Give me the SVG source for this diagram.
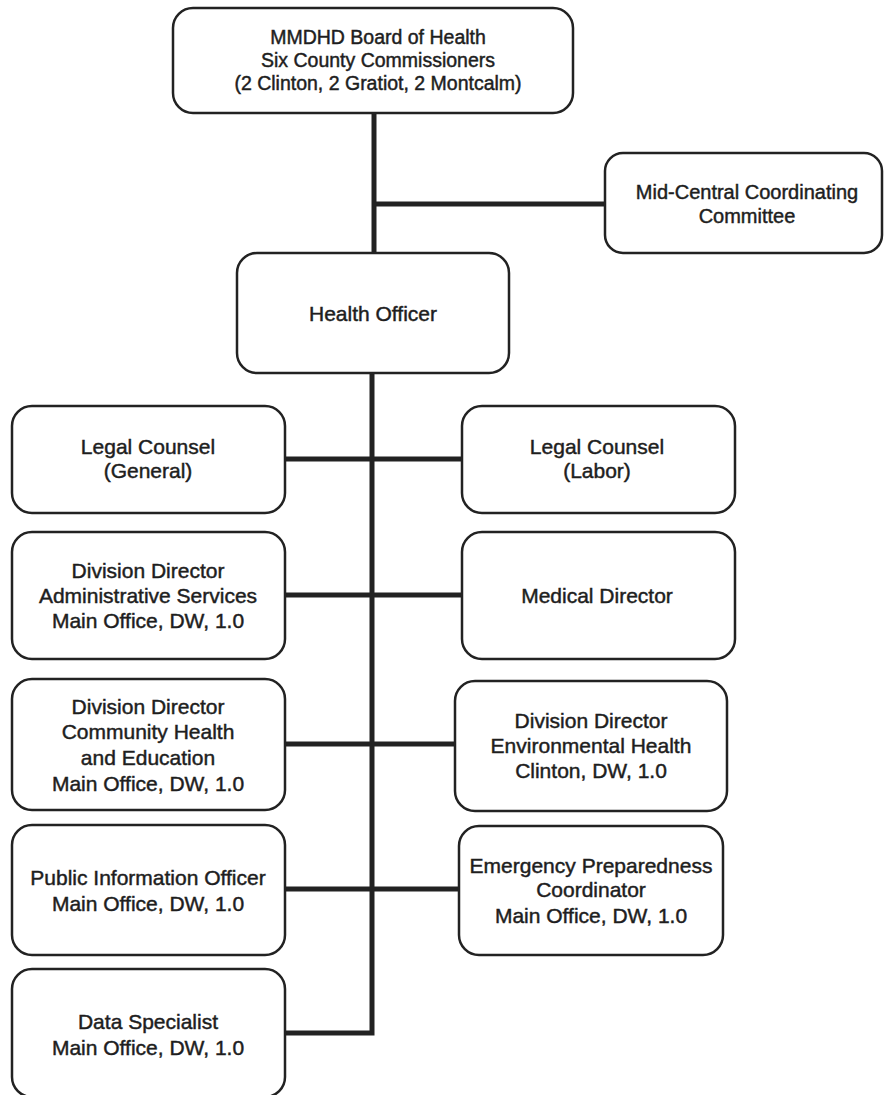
<svg xmlns="http://www.w3.org/2000/svg" width="884" height="1095" viewBox="0 0 884 1095">
<style>
.box{fill:#fff;stroke:#222;stroke-width:2.5}
.conn{fill:none;stroke:#222;stroke-width:5}
text{font-family:"Liberation Sans",Arial,sans-serif;fill:#1e1e1e;stroke:#1e1e1e;stroke-width:0.45;text-anchor:middle}
.t19{font-size:19.5px}
.t21{font-size:21px}
</style>
<rect width="884" height="1095" fill="#fff"/>
<g id="connectors">
<path class="conn" d="M374 113V253"/>
<path class="conn" d="M374 204H605"/>
<path class="conn" d="M372 373V1033H285"/>
<path class="conn" d="M285 459H462"/>
<path class="conn" d="M285 595H462"/>
<path class="conn" d="M285 744H455"/>
<path class="conn" d="M285 889H459"/>
</g>
<g id="board">
<rect class="box" x="173" y="8" width="400" height="105" rx="20"/>
<text class="t19" x="378" y="44">MMDHD Board of Health</text>
<text class="t19" x="378" y="67">Six County Commissioners</text>
<text class="t19" x="378" y="90">(2 Clinton, 2 Gratiot, 2 Montcalm)</text>
</g>
<g id="midcentral">
<rect class="box" x="605" y="153" width="277" height="100" rx="18"/>
<text class="t19" x="747" y="199" style="font-size:20px">Mid-Central Coordinating</text>
<text class="t19" x="747" y="223" style="font-size:20px">Committee</text>
</g>
<g id="healthofficer">
<rect class="box" x="237" y="253" width="272" height="120" rx="20"/>
<text class="t21" x="373" y="321">Health Officer</text>
</g>
<g id="legal-general">
<rect class="box" x="12" y="406" width="273" height="107" rx="20"/>
<text class="t21" x="148" y="454">Legal Counsel</text>
<text class="t21" x="148" y="478">(General)</text>
</g>
<g id="legal-labor">
<rect class="box" x="462" y="406" width="273" height="107" rx="20"/>
<text class="t21" x="597" y="454">Legal Counsel</text>
<text class="t21" x="597" y="478">(Labor)</text>
</g>
<g id="admin">
<rect class="box" x="12" y="532" width="273" height="127" rx="20"/>
<text class="t21" x="148" y="578">Division Director</text>
<text class="t21" x="148" y="603">Administrative Services</text>
<text class="t21" x="148" y="628">Main Office, DW, 1.0</text>
</g>
<g id="medical">
<rect class="box" x="462" y="532" width="273" height="127" rx="20"/>
<text class="t21" x="597" y="603">Medical Director</text>
</g>
<g id="community">
<rect class="box" x="12" y="679" width="273" height="131" rx="20"/>
<text class="t21" x="148" y="714">Division Director</text>
<text class="t21" x="148" y="739">Community Health</text>
<text class="t21" x="148" y="765">and Education</text>
<text class="t21" x="148" y="791">Main Office, DW, 1.0</text>
</g>
<g id="environmental">
<rect class="box" x="455" y="681" width="272" height="130" rx="20"/>
<text class="t21" x="591" y="728">Division Director</text>
<text class="t21" x="591" y="753">Environmental Health</text>
<text class="t21" x="591" y="778">Clinton, DW, 1.0</text>
</g>
<g id="pio">
<rect class="box" x="12" y="825" width="273" height="130" rx="20"/>
<text class="t21" x="148" y="885">Public Information Officer</text>
<text class="t21" x="148" y="911">Main Office, DW, 1.0</text>
</g>
<g id="emergency">
<rect class="box" x="459" y="826" width="264" height="129" rx="20"/>
<text class="t21" x="591" y="873">Emergency Preparedness</text>
<text class="t21" x="591" y="897">Coordinator</text>
<text class="t21" x="591" y="923">Main Office, DW, 1.0</text>
</g>
<g id="data">
<rect class="box" x="12" y="969" width="273" height="128" rx="20"/>
<text class="t21" x="148" y="1029">Data Specialist</text>
<text class="t21" x="148" y="1055">Main Office, DW, 1.0</text>
</g>
</svg>
